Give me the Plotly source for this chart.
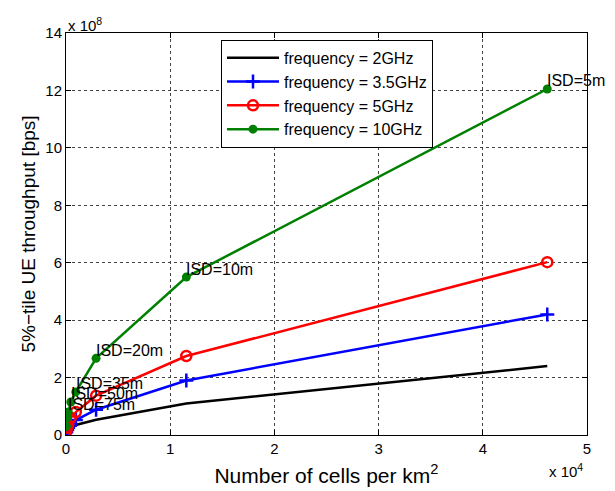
import plotly.graph_objects as go

isd = [5, 10, 20, 35, 50, 75, 100, 200]
cells_per_km2 = [46188, 11547, 2887, 943, 462, 205, 115, 29]
thr_2ghz = [2.4, 1.1, 0.53, 0.35, 0.27, 0.18, 0.13, 0.08]
thr_3_5ghz = [4.2, 1.9, 0.88, 0.52, 0.38, 0.25, 0.18, 0.1]
thr_5ghz = [6.02, 2.75, 1.37, 0.8, 0.6, 0.35, 0.25, 0.12]
thr_10ghz = [12.05, 5.5, 2.67, 1.5, 1.15, 0.8, 0.6, 0.3]
label_isd = [5, 10, 20, 35, 50, 75]
xticks = [0, 1, 2, 3, 4, 5]
yticks = [0, 2, 4, 6, 8, 10, 12, 14]

font = "Liberation Sans, Arial, sans-serif"
fig = go.Figure()
fig.add_trace(go.Scatter(x=cells_per_km2, y=[v * 1e8 for v in thr_2ghz], mode="lines",
                         line=dict(color="black", width=2.5), name="frequency = 2GHz"))
fig.add_trace(go.Scatter(x=cells_per_km2, y=[v * 1e8 for v in thr_3_5ghz], mode="lines+markers",
                         line=dict(color="blue", width=2.5),
                         marker=dict(symbol="cross-thin", size=10, line=dict(color="blue", width=2.5)),
                         name="frequency = 3.5GHz"))
fig.add_trace(go.Scatter(x=cells_per_km2, y=[v * 1e8 for v in thr_5ghz], mode="lines+markers",
                         line=dict(color="red", width=2.5),
                         marker=dict(symbol="circle-open", size=10, line=dict(color="red", width=2.5)),
                         name="frequency = 5GHz"))
fig.add_trace(go.Scatter(x=cells_per_km2, y=[v * 1e8 for v in thr_10ghz], mode="lines+markers",
                         line=dict(color="#008000", width=2.5),
                         marker=dict(symbol="circle", size=9, color="#008000"),
                         name="frequency = 10GHz"))

for d, xv, yv in zip(isd, cells_per_km2, thr_10ghz):
    if d in label_isd:
        fig.add_annotation(x=xv, y=yv * 1e8, text=f"ISD={d}m", showarrow=False,
                           xanchor="left", yanchor="middle", yshift=8, xshift=-2,
                           font=dict(size=16, color="black", family=font))

fig.add_annotation(x=0, y=1, xref="paper", yref="paper", text="x 10<sup>8</sup>",
                   showarrow=False, xanchor="left", yanchor="bottom", yshift=-3,
                   font=dict(size=15, color="black", family=font))
fig.add_annotation(x=1, y=0, xref="paper", yref="paper", text="x 10<sup>4</sup>",
                   showarrow=False, xanchor="right", yanchor="top", yshift=-24, xshift=-2,
                   font=dict(size=15, color="black", family=font))

axis_common = dict(showline=True, linecolor="black", linewidth=1, mirror="ticks",
                   ticks="inside", ticklen=5, tickcolor="black", showgrid=True,
                   gridcolor="#444444", griddash="dot", gridwidth=1, zeroline=False,
                   automargin=False,
                   tickfont=dict(size=15, color="black", family=font))
fig.update_xaxes(range=[0, 50000], tickvals=[t * 1e4 for t in xticks],
                 ticktext=[str(t) for t in xticks],
                 title=dict(text="Number of cells per km<sup>2</sup>", standoff=12,
                            font=dict(size=21, color="black", family=font)), **axis_common)
fig.update_yaxes(range=[0, 14e8], tickvals=[t * 1e8 for t in yticks],
                 ticktext=[str(t) for t in yticks],
                 title=dict(text="5%−tile UE throughput [bps]", standoff=4,
                            font=dict(size=19, color="black", family=font)), **axis_common)

fig.update_layout(width=607, height=483, margin=dict(l=58, r=28, t=25, b=56),
                  paper_bgcolor="white", plot_bgcolor="white",
                  font=dict(family=font, color="black"),
                  legend=dict(x=0.2975, y=0.983, xanchor="left", yanchor="top",
                              bgcolor="white", bordercolor="black", borderwidth=1,
                              font=dict(size=16, color="black", family=font),
                              tracegroupgap=0, itemwidth=52))
fig.write_html("out.html")
